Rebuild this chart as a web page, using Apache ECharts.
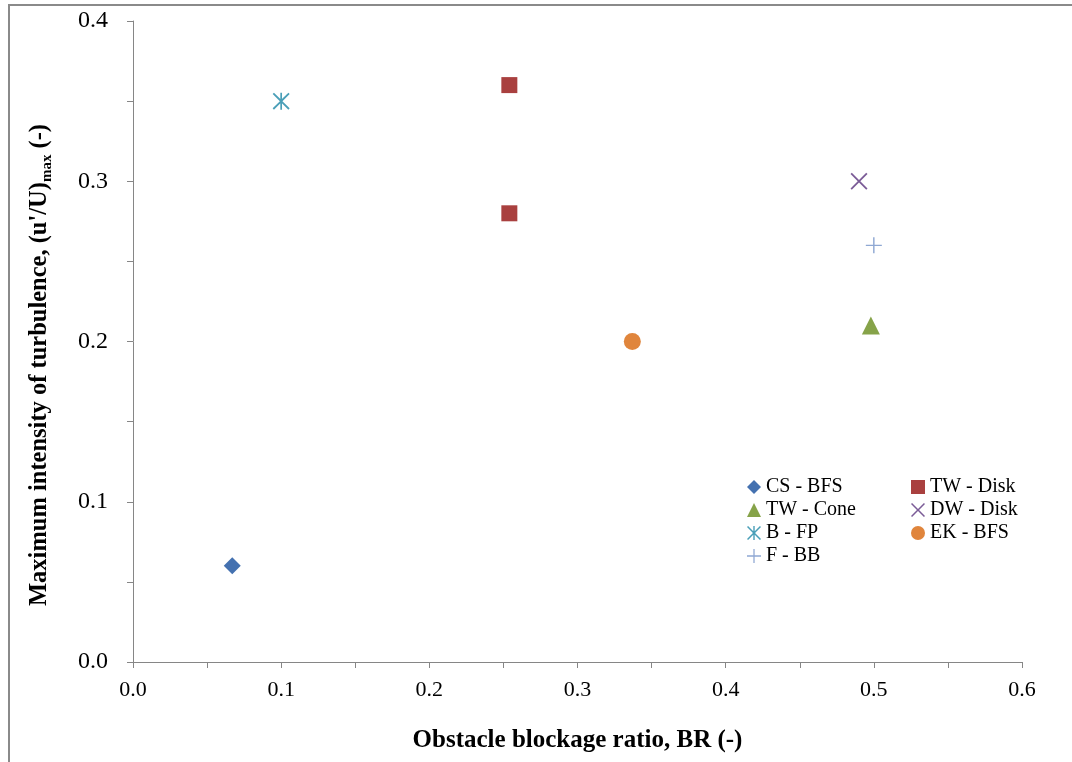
<!DOCTYPE html>
<html>
<head>
<meta charset="utf-8">
<script src="https://cdn.jsdelivr.net/npm/echarts@6/dist/echarts.min.js"></script>
<style>
  html, body { margin: 0; padding: 0; background: #fff; }
  #chart { width: 1072px; height: 762px; }
</style>
</head>
<body>
<div id="chart"></div>
<script>
// Blockage ratio (x) vs maximum turbulence intensity (y) for each study
const csBfs = [[0.067, 0.06]];
const twDisk = [[0.254, 0.36], [0.254, 0.28]];
const twCone = [[0.498, 0.21]];
const dwDisk = [[0.49, 0.30]];
const bFp = [[0.10, 0.35]];
const ekBfs = [[0.337, 0.20]];
const fBb = [[0.50, 0.26]];

const xTitle = 'Obstacle blockage ratio, BR (-)';
const yTitleMain = "Maximum intensity of turbulence, (u'/U)";
const yTitleSub = 'max';
const yTitleEnd = ' (-)';

const FONT = '"Liberation Serif", "Times New Roman", serif';
const AXIS_GREY = '#868686';

// Marker outlines drawn as thin filled polygons
const crossX = 'path://M1.5,0 L10,8.5 L18.5,0 L20,1.5 L11.5,10 L20,18.5 L18.5,20 L10,11.5 L1.5,20 L0,18.5 L8.5,10 L0,1.5 Z';
const asterisk = 'path://M1.5,0 L10,8.5 L18.5,0 L20,1.5 L11.5,10 L20,18.5 L18.5,20 L10,11.5 L1.5,20 L0,18.5 L8.5,10 L0,1.5 Z M9,0 L11,0 L11,20 L9,20 Z';
const plus = 'path://M9.1,0 L10.9,0 L10.9,9.1 L20,9.1 L20,10.9 L10.9,10.9 L10.9,20 L9.1,20 L9.1,10.9 L0,10.9 L0,9.1 L9.1,9.1 Z';

function scatter(name, data, symbol, size, color) {
  return {
    name: name,
    type: 'scatter',
    data: data,
    symbol: symbol,
    symbolSize: size,
    itemStyle: { color: color, opacity: 1 },
    emphasis: { disabled: true },
    z: 3
  };
}

const chart = echarts.init(document.getElementById('chart'), null, { renderer: 'canvas' });

const legendCommon = {
  orient: 'vertical',
  itemWidth: 14,
  itemHeight: 14,
  itemGap: 3,
  selectedMode: false,
  textStyle: { fontFamily: FONT, fontSize: 20, color: '#000', lineHeight: 20 }
};

chart.setOption({
  animation: false,
  backgroundColor: '#fff',
  grid: { left: 133, right: 50, top: 21, bottom: 100, containLabel: false },
  legend: [
    Object.assign({}, legendCommon, {
      left: 742, top: 472,
      data: ['CS - BFS', 'TW - Cone', 'B - FP', 'F - BB']
    }),
    Object.assign({}, legendCommon, {
      left: 906, top: 472,
      data: ['TW - Disk', 'DW - Disk', 'EK - BFS']
    })
  ],
  xAxis: {
    type: 'value',
    min: 0, max: 0.6, interval: 0.1,
    name: xTitle,
    nameLocation: 'middle',
    nameGap: 66,
    nameTextStyle: { fontFamily: FONT, fontSize: 25, fontWeight: 'bold', color: '#000' },
    axisLine: { show: true, onZero: false, lineStyle: { color: AXIS_GREY, width: 1 } },
    axisTick: { show: true, inside: false, length: 6, lineStyle: { color: AXIS_GREY } },
    minorTick: { show: true, splitNumber: 2, length: 6, lineStyle: { color: AXIS_GREY } },
    splitLine: { show: false },
    axisLabel: {
      fontFamily: FONT, fontSize: 22, color: '#000', margin: 17,
      formatter: v => v.toFixed(1)
    }
  },
  yAxis: {
    type: 'value',
    min: 0, max: 0.4, interval: 0.1,
    axisLine: { show: true, onZero: false, lineStyle: { color: AXIS_GREY, width: 1 } },
    axisTick: { show: true, inside: false, length: 6, lineStyle: { color: AXIS_GREY } },
    minorTick: { show: true, splitNumber: 2, length: 6, lineStyle: { color: AXIS_GREY } },
    splitLine: { show: false },
    axisLabel: {
      fontFamily: FONT, fontSize: 24, color: '#000', margin: 25,
      formatter: v => v.toFixed(1)
    }
  },
  graphic: [
    {
      type: 'rect',
      shape: { x: 9, y: 5, width: 1100, height: 800 },
      style: { fill: 'none', stroke: '#8a8a8a', lineWidth: 2 },
      silent: true,
      z: 0
    },
    {
      type: 'text',
      x: 40, y: 365,
      rotation: Math.PI / 2,
      silent: true,
      style: {
        text: '{m|' + yTitleMain + '}{s|' + yTitleSub + '}{m|' + yTitleEnd + '}',
        align: 'center',
        verticalAlign: 'middle',
        rich: {
          m: { fontFamily: FONT, fontSize: 24.5, fontWeight: 'bold', fill: '#000', lineHeight: 30 },
          s: { fontFamily: FONT, fontSize: 15, fontWeight: 'bold', fill: '#000', lineHeight: 30, verticalAlign: 'bottom', padding: [10, 0, 0, 0] }
        }
      }
    }
  ],
  series: [
    scatter('CS - BFS', csBfs, 'diamond', 17, '#4471b0'),
    scatter('TW - Disk', twDisk, 'rect', 16, '#a9403f'),
    scatter('TW - Cone', twCone, 'triangle', 18, '#86a349'),
    scatter('DW - Disk', dwDisk, crossX, 17, '#7b5c97'),
    scatter('B - FP', bFp, asterisk, 17, '#4a9fb8'),
    scatter('EK - BFS', ekBfs, 'circle', 17, '#e0853c'),
    scatter('F - BB', fBb, plus, 16, '#8fa8d3')
  ]
});
</script>
</body>
</html>
